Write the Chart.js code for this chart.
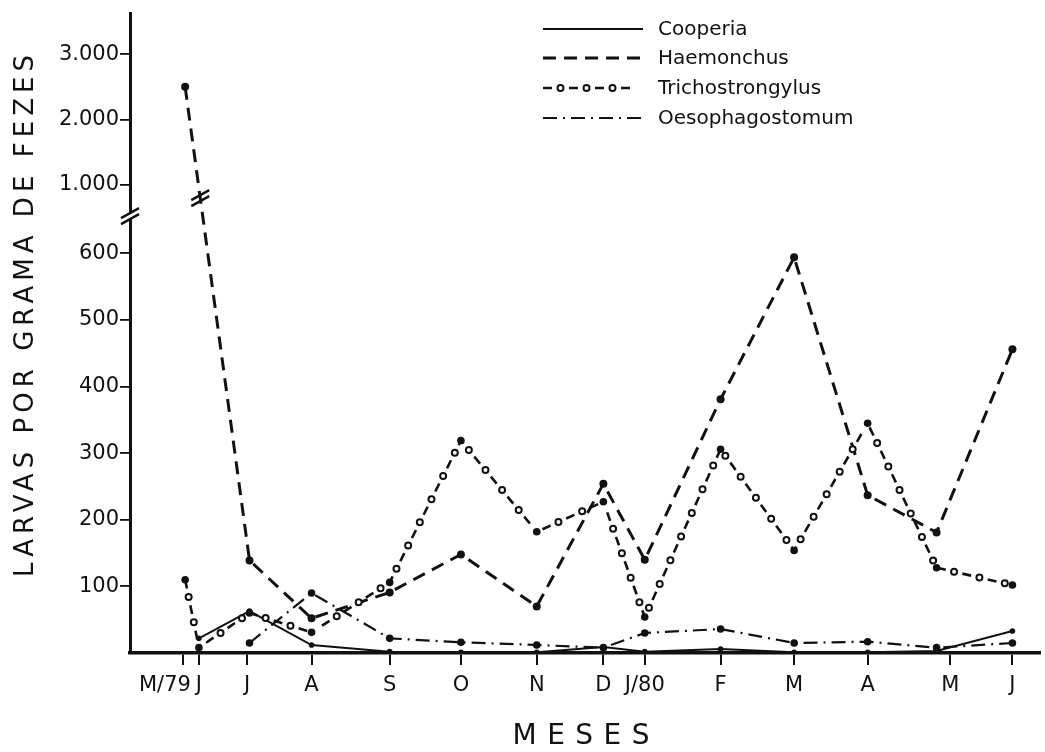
<!DOCTYPE html>
<html lang="pt-BR">
<head>
<meta charset="utf-8">
<title>Larvas por grama de fezes</title>
<script src="https://cdn.jsdelivr.net/npm/chart.js@4.4.1/dist/chart.umd.min.js"></script>
<style>
  html, body { margin: 0; padding: 0; background: #fff; }
  #grafico { display: block; }
</style>
</head>
<body>
<canvas id="grafico" width="1045" height="752"></canvas>
<script>
// meses das coletas (eixo x)
const meses = ['M/79', 'J', 'J', 'A', 'S', 'O', 'N', 'D', 'J/80', 'F', 'M', 'A', 'M', 'J'];
// posicao de cada mes no eixo, em dias
const diaMes = [23, 30, 51, 79, 113, 144, 177, 206, 224, 257, 289, 321, 357, 384];
// dia em que cada coleta foi marcada
const diaColeta = [24, 30, 52, 79, 113, 144, 177, 206, 224, 257, 289, 321, 351, 384];

// larvas por grama de fezes
const cooperia = [null, 22, 63, 12, 2, 1, 1, 9, 2, 6, 1, 1, 3, 33];
const haemonchus = [2500, null, 139, 52, 91, 148, 70, 254, 140, 381, 594, 237, 181, 456];
const trichostrongylus = [110, 8, 60, 31, 106, 319, 182, 227, 54, 306, 154, 345, 128, 102];
const oesophagostomum = [null, null, 15, 90, 22, 16, 12, 8, 30, 36, 15, 17, 8, 15];

const ticksY = [100, 200, 300, 400, 500, 600, 1000, 2000, 3000];

const FONTE = '"DejaVu Sans", sans-serif';
const PRETO = '#111';

// eixo y quebrado: ate 700 escala normal, acima 1000 larvas valem ~98 unidades
function quebra(v) {
  return v <= 700 ? v : 703 + (v - 1000) * 0.098;
}

function rotuloY(v) {
  return v >= 1000 ? (v / 1000) + '.000' : String(v);
}

function pontos(valores) {
  const out = [];
  valores.forEach((v, i) => {
    if (v !== null) out.push({ x: diaColeta[i], y: quebra(v) });
  });
  return out;
}

// circulos abertos nos vazios do tracejado (Trichostrongylus)
function aneis(ctx, pts, dash, raio) {
  const periodo = dash[0] + dash[1];
  const fase = dash[0] + dash[1] / 2;
  let acum = 0;
  for (let i = 1; i < pts.length; i++) {
    const a = pts[i - 1], b = pts[i];
    const seg = Math.hypot(b.x - a.x, b.y - a.y);
    const k = Math.ceil((acum - fase) / periodo);
    for (let s = fase + k * periodo; s < acum + seg; s += periodo) {
      const t = (s - acum) / seg;
      const x = a.x + t * (b.x - a.x);
      const y = a.y + t * (b.y - a.y);
      if (Math.hypot(x - a.x, y - a.y) < 6 || Math.hypot(x - b.x, y - b.y) < 6) continue;
      ctx.beginPath();
      ctx.arc(x, y, raio, 0, 2 * Math.PI);
      ctx.fillStyle = '#fff';
      ctx.fill();
      ctx.stroke();
    }
    acum += seg;
  }
}

function barras(ctx, x, y) {
  ctx.save();
  ctx.strokeStyle = PRETO;
  ctx.lineWidth = 2.4;
  [-3, 3].forEach(d => {
    ctx.beginPath();
    ctx.moveTo(x - 9, y + 5 + d);
    ctx.lineTo(x + 9, y - 5 + d);
    ctx.stroke();
  });
  ctx.restore();
}

function textoEspacado(ctx, texto, x, y, largura) {
  ctx.letterSpacing = '0px';
  const w0 = ctx.measureText(texto).width;
  const esp = (largura - w0) / (texto.length - 1);
  ctx.letterSpacing = esp + 'px';
  ctx.textAlign = 'left';
  ctx.fillText(texto, x - largura / 2, y);
  ctx.letterSpacing = '0px';
}

const desenho = {
  id: 'desenho',
  afterDatasetsDraw(chart) {
    const ctx = chart.ctx;
    const sy = chart.scales.y;
    chart.data.datasets.forEach((ds, i) => {
      if (!ds.aneis) return;
      const pts = chart.getDatasetMeta(i).data.map(p => ({ x: p.x, y: p.y }));
      ctx.save();
      ctx.strokeStyle = PRETO;
      ctx.lineWidth = 2;
      aneis(ctx, pts, ds.borderDash, 3);
      ctx.restore();
    });

    // quebra no eixo y
    const yq = sy.getPixelForValue(656);
    const xe = chart.chartArea.left;
    ctx.save();
    ctx.fillStyle = '#fff';
    ctx.fillRect(xe - 3, yq - 3, 6, 6);
    ctx.restore();
    barras(ctx, xe, yq);

    // quebra na linha de Haemonchus
    const h = chart.getDatasetMeta(1).data;
    const yl = sy.getPixelForValue(683);
    const t = (yl - h[0].y) / (h[1].y - h[0].y);
    barras(ctx, h[0].x + t * (h[1].x - h[0].x), yl);
  },
  afterDraw(chart) {
    const ctx = chart.ctx;
    const sx = chart.scales.x;
    ctx.save();
    ctx.fillStyle = PRETO;

    // rotulos dos meses
    ctx.font = '21px ' + FONTE;
    ctx.textBaseline = 'middle';
    meses.forEach((m, i) => {
      const px = sx.getPixelForValue(diaMes[i]);
      if (i === 0) {
        ctx.textAlign = 'right';
        ctx.fillText(m, px + 8, 686);
      } else {
        ctx.textAlign = 'center';
        ctx.fillText(m, px, 686);
      }
    });

    // titulo do eixo x
    ctx.font = '28px ' + FONTE;
    textoEspacado(ctx, 'MESES', 581, 737, 137);

    // titulo do eixo y
    ctx.save();
    ctx.translate(26, 316);
    ctx.rotate(-Math.PI / 2);
    ctx.font = '26px ' + FONTE;
    textoEspacado(ctx, 'LARVAS POR GRAMA DE FEZES', 0, 0, 522);
    ctx.restore();

    // legenda
    const linhas = [29, 58, 88, 118];
    chart.data.datasets.forEach((ds, i) => {
      const y = linhas[i];
      ctx.save();
      ctx.strokeStyle = PRETO;
      ctx.lineWidth = ds.borderWidth;
      ctx.setLineDash(ds.borderDash || []);
      ctx.beginPath();
      ctx.moveTo(543, y);
      ctx.lineTo(643, y);
      ctx.stroke();
      ctx.setLineDash([]);
      if (ds.aneis) {
        ctx.lineWidth = 2;
        aneis(ctx, [{ x: 543, y: y }, { x: 643, y: y }], ds.borderDash, 3);
      }
      ctx.restore();
      ctx.font = '20px ' + FONTE;
      ctx.textAlign = 'left';
      ctx.textBaseline = 'middle';
      ctx.fillText(ds.label, 658, y + 1);
    });
    ctx.restore();
  }
};

const ctx = document.getElementById('grafico').getContext('2d');

new Chart(ctx, {
  type: 'line',
  data: {
    datasets: [
      {
        label: 'Cooperia',
        data: pontos(cooperia),
        borderColor: PRETO,
        borderWidth: 2,
        pointRadius: 2.8,
        pointBackgroundColor: PRETO,
        pointBorderWidth: 0
      },
      {
        label: 'Haemonchus',
        data: pontos(haemonchus),
        borderColor: PRETO,
        borderWidth: 3,
        borderDash: [13, 8],
        pointRadius: 4,
        pointBackgroundColor: PRETO,
        pointBorderWidth: 0
      },
      {
        label: 'Trichostrongylus',
        data: pontos(trichostrongylus),
        borderColor: PRETO,
        borderWidth: 2.6,
        borderDash: [9, 17],
        aneis: true,
        pointRadius: 3.8,
        pointBackgroundColor: PRETO,
        pointBorderWidth: 0
      },
      {
        label: 'Oesophagostomum',
        data: pontos(oesophagostomum),
        borderColor: PRETO,
        borderWidth: 2.2,
        borderDash: [14, 6, 2, 6],
        pointRadius: 3.8,
        pointBackgroundColor: PRETO,
        pointBorderWidth: 0
      }
    ]
  },
  options: {
    responsive: false,
    animation: false,
    devicePixelRatio: 1,
    layout: { padding: { top: 12, right: 5, left: 0, bottom: 0 } },
    plugins: {
      legend: { display: false },
      tooltip: { enabled: false }
    },
    scales: {
      x: {
        type: 'linear',
        min: 0,
        max: 396,
        afterFit: s => { s.height = 99; },
        afterBuildTicks: s => { s.ticks = diaMes.map(d => ({ value: d })); },
        ticks: { display: false },
        grid: { drawOnChartArea: false, tickLength: 12, color: PRETO, lineWidth: 2 },
        border: { color: PRETO, width: 3.5 }
      },
      y: {
        min: 0,
        max: 960,
        afterFit: s => { s.width = 130; },
        afterBuildTicks: s => { s.ticks = ticksY.map(v => ({ value: quebra(v) })); },
        ticks: {
          callback: (val, i) => rotuloY(ticksY[i]),
          font: { family: FONTE, size: 21 },
          color: PRETO,
          padding: 1
        },
        grid: { drawOnChartArea: false, tickLength: 10, color: PRETO, lineWidth: 1.8 },
        border: { color: PRETO, width: 3 }
      }
    }
  },
  plugins: [desenho]
});
</script>
</body>
</html>
